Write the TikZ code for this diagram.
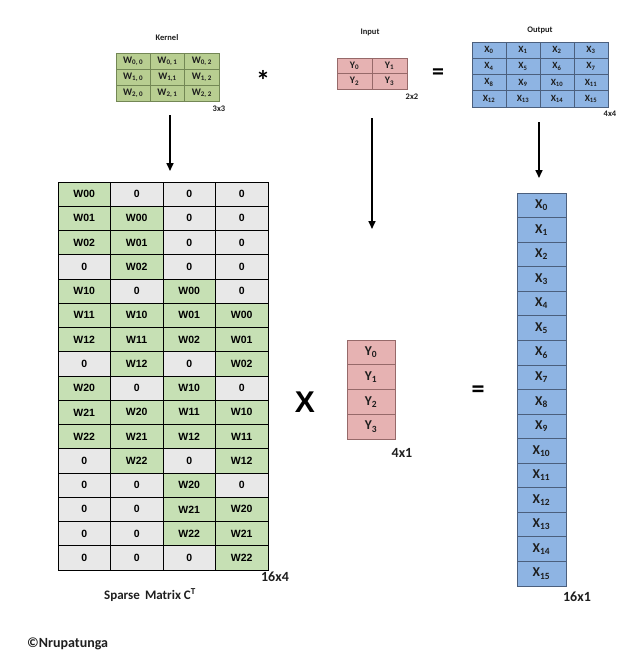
\documentclass[tikz,border=0pt]{standalone}
\usepackage{fontspec}
\setmainfont{Carlito}
\newfontfamily\arialf{Liberation Sans}
\usetikzlibrary{arrows.meta}
\definecolor{kgreen}{RGB}{184,206,145}
\definecolor{kborder}{RGB}{115,135,85}
\definecolor{sgreen}{RGB}{198,224,180}
\definecolor{sgray}{RGB}{232,232,232}
\definecolor{pinkc}{RGB}{230,178,178}
\definecolor{pborder}{RGB}{150,105,105}
\definecolor{bluec}{RGB}{142,180,227}
\definecolor{bborder}{RGB}{75,95,125}
\definecolor{txt}{RGB}{30,30,30}
\begin{document}
\begin{tikzpicture}[x=1pt,y=-1pt,
  kcell/.style={draw=kborder,line width=0.7pt,fill=kgreen,minimum width=34.3pt,minimum height=16pt,inner sep=0pt,outer sep=0pt,font=\bfseries\fontsize{10}{10}\selectfont,text=txt},
  icell/.style={draw=pborder,line width=0.7pt,fill=pinkc,minimum width=35pt,minimum height=15.5pt,inner sep=0pt,outer sep=0pt,font=\bfseries\fontsize{10}{10}\selectfont,text=txt},
  ocell/.style={draw=bborder,line width=0.7pt,fill=bluec,minimum width=34pt,minimum height=16.25pt,inner sep=0pt,outer sep=0pt,font=\bfseries\fontsize{9.5}{10}\selectfont,text=txt},
  scell/.style={draw=black,line width=1pt,minimum width=52.5pt,minimum height=24.25pt,inner sep=0pt,outer sep=0pt,font=\arialf\bfseries\fontsize{10.5}{11}\selectfont,text=black},
  ycell/.style={draw=pborder,line width=0.8pt,fill=pinkc,minimum width=48pt,minimum height=24.75pt,inner sep=0pt,outer sep=0pt,font=\bfseries\fontsize{13.5}{14}\selectfont,text=txt},
  xcell/.style={draw=bborder,line width=0.8pt,fill=bluec,minimum width=49pt,minimum height=24.56pt,inner sep=0pt,outer sep=0pt,font=\bfseries\fontsize{13.5}{14}\selectfont,text=txt},
  lbl/.style={inner sep=0pt,font=\bfseries\fontsize{8.5}{9}\selectfont,text=txt},
  biglbl/.style={inner sep=0pt,font=\bfseries\fontsize{14}{15}\selectfont,text=txt},
  arr/.style={line width=1.6pt,-{Triangle[width=7pt,length=8pt]}}
]
\useasboundingbox (0,0) rectangle (618,665);

% Kernel
\node[lbl] (kt) at (167,38) {Kernel};
\node[kcell] (k11) at (133.2,61) {W\textsubscript{0, 0}};
\node[kcell] (k12) at (167.5,61) {W\textsubscript{0, 1}};
\node[kcell] (k13) at (201.8,61) {W\textsubscript{0, 2}};
\node[kcell] (k21) at (133.2,77) {W\textsubscript{1, 0}};
\node[kcell] (k22) at (167.5,77) {W\textsubscript{1,1}};
\node[kcell] (k23) at (201.8,77) {W\textsubscript{1, 2}};
\node[kcell] (k31) at (133.2,93) {W\textsubscript{2, 0}};
\node[kcell] (k32) at (167.5,93) {W\textsubscript{2, 1}};
\node[kcell] (k33) at (201.8,93) {W\textsubscript{2, 2}};
\node[lbl] (ks) at (219,109) {3x3};
\node[inner sep=0pt,font=\bfseries\fontsize{28}{28}\selectfont] (star) at (263,80) {*};

% Input
\node[lbl] (it) at (370,32) {Input};
\node[icell] (i11) at (354.5,65.75) {Y\textsubscript{0}};
\node[icell] (i12) at (389.5,65.75) {Y\textsubscript{1}};
\node[icell] (i21) at (354.5,81.25) {Y\textsubscript{2}};
\node[icell] (i22) at (389.5,81.25) {Y\textsubscript{3}};
\node[lbl] (is) at (412,97) {2x2};
\node[inner sep=0pt,font=\bfseries\fontsize{24}{24}\selectfont] (eq1) at (438,74) {=};

% Output
\node[lbl] (ot) at (540,30) {Output};
\foreach \r in {1,...,4}{
  \foreach \c in {1,...,4}{
    \pgfmathtruncatemacro{\idx}{(\r-1)*4+\c-1}
    \node[ocell] (o\r\c) at ({472+34*(\c-0.5)},{42+16.25*(\r-0.5)}) {X\textsubscript{\idx}};
  }
}
\node[lbl] (os) at (610,114) {4x4};

% Arrows
\coordinate (a1s) at (170,115); \coordinate (a1e) at (170,171);
\coordinate (a2s) at (372,118); \coordinate (a2e) at (372,229);
\coordinate (a3s) at (539,122); \coordinate (a3e) at (539,178);
\draw[arr] (a1s) -- (a1e);
\draw[arr] (a2s) -- (a2e);
\draw[arr] (a3s) -- (a3e);

% Sparse matrix
\def\zerostr{0}
\foreach \row [count=\r] in {{W00,0,0,0},{W01,W00,0,0},{W02,W01,0,0},{0,W02,0,0},
  {W10,0,W00,0},{W11,W10,W01,W00},{W12,W11,W02,W01},{0,W12,0,W02},
  {W20,0,W10,0},{W21,W20,W11,W10},{W22,W21,W12,W11},{0,W22,0,W12},
  {0,0,W20,0},{0,0,W21,W20},{0,0,W22,W21},{0,0,0,W22}}{
  \foreach \v [count=\c] in \row {
    \edef\tmpv{\v}
    \ifx\tmpv\zerostr \tikzset{cfill/.style={fill=sgray}}\else\tikzset{cfill/.style={fill=sgreen}}\fi
    \node[scell,cfill] (m-\r-\c) at ({58+52.5*(\c-0.5)},{182+24.25*(\r-0.5)}) {\v};
  }
}
\node[biglbl] (ms) at (275,577) {16x4};
\node[inner sep=0pt,font=\bfseries\fontsize{13}{14}\selectfont,text=txt] (mt) at (150,595) {Sparse\, Matrix C\textsuperscript{T}};

% Multiply
\node[inner sep=0pt,font=\arialf\bfseries\fontsize{30}{30}\selectfont] (times) at (305,402) {X};

% Y vector
\foreach \i in {0,...,3}{
  \node[ycell] (y\i) at (371,{340+24.75*(\i+0.5)}) {Y\textsubscript{\i}};
}
\node[biglbl] (ys) at (402,453) {4x1};

\node[inner sep=0pt,font=\bfseries\fontsize{26}{26}\selectfont] (eq2) at (478,392) {=};

% X vector
\foreach \i in {0,...,15}{
  \node[xcell] (x\i) at (541.5,{193+24.56*(\i+0.5)}) {X\textsubscript{\i}};
}
\node[biglbl] (xs) at (577,597) {16x1};

\node[inner sep=0pt,anchor=west,font=\bfseries\fontsize{14}{15}\selectfont,text=txt] (copy) at (27,644) {©Nrupatunga};
\end{tikzpicture}
\end{document}
